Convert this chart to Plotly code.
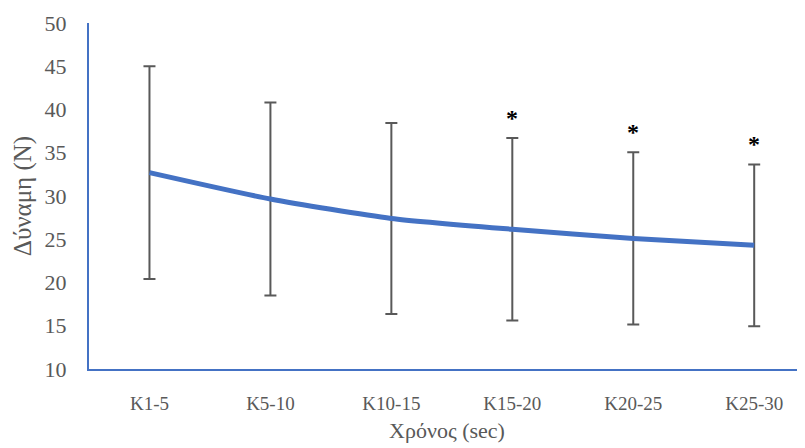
import plotly.graph_objects as go

categories = ["K1-5", "K5-10", "K10-15", "K15-20", "K20-25", "K25-30"]
means = [32.7, 29.65, 27.4, 26.15, 25.1, 24.3]
sd = [12.3, 11.15, 11.05, 10.55, 9.95, 9.35]
significance = ["", "", "", "*", "*", "*"]
y_ticks = [10, 15, 20, 25, 30, 35, 40, 45, 50]

FONT = "Liberation Serif, Times New Roman, serif"
GRAY = "#595959"
BLUE = "#4472C4"

fig = go.Figure()
fig.add_trace(go.Scatter(
    x=list(range(len(categories))), y=means, mode="lines",
    line=dict(color=BLUE, width=5, shape="spline", smoothing=0.6),
    error_y=dict(type="data", array=sd, visible=True, color=GRAY, thickness=2, width=6),
    showlegend=False, hoverinfo="skip",
))

for i, s in enumerate(significance):
    if s:
        fig.add_annotation(x=i, y=means[i] + sd[i], text="<b>" + s + "</b>", showarrow=False,
                           yanchor="bottom", yshift=5,
                           font=dict(family=FONT, size=24, color="black"))

fig.update_layout(
    width=797, height=440,
    margin=dict(l=81, r=0, t=15, b=79),
    paper_bgcolor="white", plot_bgcolor="white",
    font=dict(family=FONT, color=GRAY),
    xaxis=dict(
        range=[-0.5, 5.42], tickmode="array", tickvals=list(range(len(categories))),
        ticktext=categories, showgrid=False, zeroline=False,
        showline=True, linecolor=BLUE, linewidth=2, ticks="",
        tickfont=dict(family=FONT, size=19, color=GRAY), ticklabelstandoff=16,
        title=dict(text="Χρόνος (sec)", font=dict(family=FONT, size=22, color=GRAY), standoff=10),
    ),
    yaxis=dict(
        range=[10, 50], tickvals=y_ticks, showgrid=False, zeroline=False,
        showline=True, linecolor=BLUE, linewidth=2, ticks="",
        tickfont=dict(family=FONT, size=22, color=GRAY), ticklabelstandoff=16,
        title=dict(text="Δύναμη (N)", font=dict(family=FONT, size=25, color=GRAY), standoff=6),
    ),
)

fig.write_html("out.html")
